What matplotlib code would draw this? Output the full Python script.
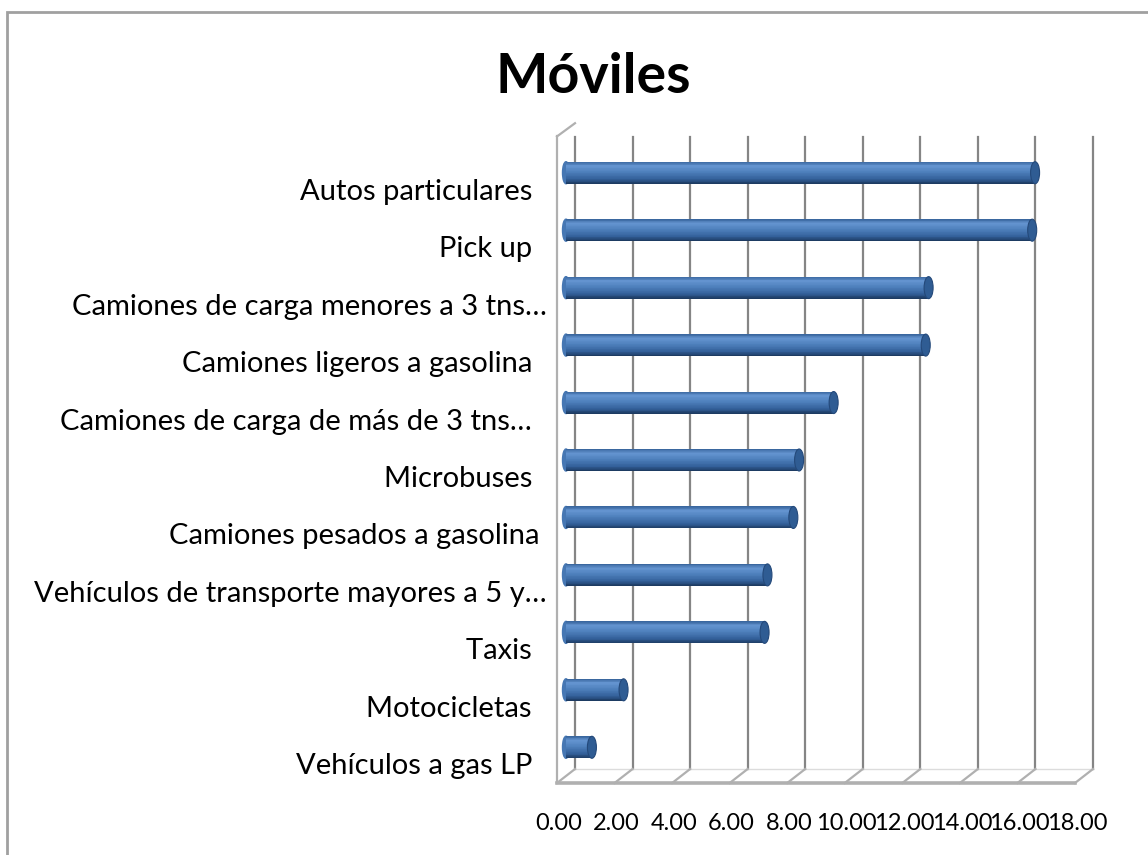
import numpy as np
import matplotlib.pyplot as plt
from matplotlib.patches import Ellipse, Rectangle
from matplotlib.colors import LinearSegmentedColormap

# Datos (de arriba hacia abajo, como en el gráfico)
categorias = [
    'Autos particulares  ',
    'Pick up  ',
    'Camiones de carga menores a 3 tns…',
    'Camiones ligeros a gasolina  ',
    'Camiones de carga de más de 3 tns…  ',
    'Microbuses  ',
    'Camiones pesados a gasolina ',
    'Vehículos de transporte mayores a 5 y…',
    'Taxis  ',
    'Motocicletas  ',
    'Vehículos a gas LP  ',
]
valores = [16.3, 16.2, 12.6, 12.5, 9.3, 8.1, 7.9, 7.0, 6.9, 2.0, 0.9]
ticks = np.arange(0, 20, 2)
tick_labels = [f'{t:.2f}' for t in ticks]

plt.rcParams['font.family'] = ['Lato', 'DejaVu Sans']

W, H = 1148, 855
fig = plt.figure(figsize=(W / 100, H / 100), dpi=100)

# pared del fondo (plano trasero del gráfico 3D)
x0, x1, y0, y1 = 575, 1093, 137, 769
ax = fig.add_axes([x0 / W, 1 - y1 / H, (x1 - x0) / W, (y1 - y0) / H])
n = len(valores)
ax.set_xlim(0, 18)
ax.set_ylim(-0.5, n - 0.5)
ax.axis('off')

ppx = (x1 - x0) / 18   # pixeles por unidad
ppy = (y1 - y0) / n
fx, fy = -18 / ppx, -14 / ppy   # desplazamiento del plano frontal
mx, my = -9 / ppx, -7 / ppy     # profundidad media (barras)

gris = '#858585'
gris_claro = '#b0b0b0'
ybot, ytop = -0.5, n - 0.5

# lineas de la pared de fondo
for t in ticks:
    ax.plot([t, t], [ybot, ytop], color=gris, lw=1.6, clip_on=False, zorder=1)

# piso
ax.plot([fx, 18 + fx], [ybot + fy, ybot + fy], color=gris_claro, lw=2.6, clip_on=False, zorder=1)
ax.plot([0, 18], [ybot, ybot], color='#dcdcdc', lw=1.0, clip_on=False, zorder=1)
for t in ticks:
    ax.plot([t + fx, t], [ybot + fy, ybot], color=gris_claro, lw=1.6, clip_on=False, zorder=1)

# pared izquierda
ax.plot([fx, fx], [ybot + fy, ytop + 0.01], color=gris_claro, lw=1.6, clip_on=False, zorder=1)
ax.plot([fx, 0], [ytop + 0.01, ytop + 0.24], color=gris_claro, lw=1.6, clip_on=False, zorder=1)

# barras cilíndricas
cmap = LinearSegmentedColormap.from_list(
    'cil', [(0.0, '#3a679f'), (0.18, '#6595d1'), (0.45, '#4f81bd'),
            (0.8, '#33609a'), (1.0, '#1d3b62')])
h = 22 / ppy
nstr = 30
for k, v in enumerate(valores):
    yc = n - 1 - k + my
    ax.add_patch(Ellipse((mx, yc), 7 / ppx, h, color='#4677b3', zorder=2, clip_on=False))
    for j in range(nstr):
        yy = yc + h / 2 - (j + 0.5) * h / nstr
        ax.barh(yy, v, left=mx, height=h / nstr * 1.05, color=cmap(j / (nstr - 1)),
                lw=0, zorder=3, clip_on=False)
    ax.add_patch(Ellipse((mx + v, yc), 9 / ppx, h, facecolor='#2f5c93',
                         edgecolor='#24497a', lw=0.8, zorder=4, clip_on=False))

# etiquetas de categorias
for k, lab in enumerate(categorias):
    ax.text(-28 / ppx, n - 1 - k - 26 / ppy, lab, ha='right', va='center',
            fontsize=21, color='black', clip_on=False)

# etiquetas del eje de valores
for t, lab in zip(ticks, tick_labels):
    ax.text(t + fx + 2 / ppx, ybot - 54 / ppy, lab, ha='center', va='center',
            fontsize=17, color='black', clip_on=False)

fig.text(593 / W, 1 - 77 / H, 'Móviles', ha='center', va='center',
         fontsize=40, fontweight='bold')

# marco del área del gráfico
fig.add_artist(Rectangle((7 / W, -0.2), 1.2, 1.2 - 12 / H, transform=fig.transFigure,
                         fill=False, edgecolor='#a0a0a0', lw=2, clip_on=False))

fig.savefig('out.png', dpi=100)
